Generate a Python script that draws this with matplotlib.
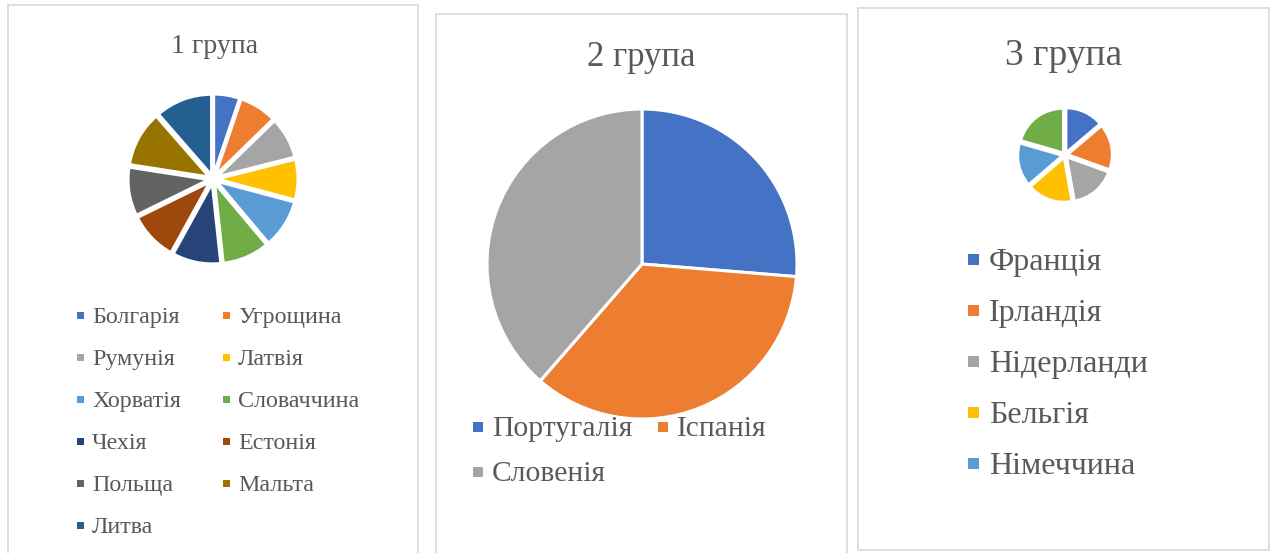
import matplotlib
matplotlib.use("Agg")
import matplotlib.pyplot as plt
from matplotlib.patches import Rectangle

W, H = 1272, 553
DPI = 100

# ---------------- data ----------------
labels1 = ["Болгарія", "Угрощина", "Румунія", "Латвія", "Хорватія", "Словаччина",
           "Чехія", "Естонія", "Польща", "Мальта", "Литва"]
values1 = [5.2, 7.5, 8.3, 8.1, 9.7, 9.4, 9.7, 9.7, 9.7, 11.1, 11.4]

labels2 = ["Португалія", "Іспанія", "Словенія"]
values2 = [26.3, 35.1, 38.6]

labels3 = ["Франція", "Ірландія", "Нідерланди", "Бельгія", "Німеччина"]
values3 = [13.8, 16.7, 16.7, 16.5, 15.8, 20.5]

titles = ["1 група", "2 група", "3 група"]

office = ["#4472C4", "#ED7D31", "#A5A5A5", "#FFC000", "#5B9BD5", "#70AD47",
          "#264478", "#9E480E", "#636363", "#997300", "#255E91"]

TEXT = "#595959"
FONT = "Liberation Serif"

fig = plt.figure(figsize=(W / DPI, H / DPI), dpi=DPI)
fig.patch.set_facecolor("white")


def fx(x):
    return x / W


def fy(y):
    return 1 - y / H


# panel borders
for (x0, y0, x1, y1) in [(8, 5, 418, 560), (436, 14, 847, 560), (858, 8, 1269, 550)]:
    fig.patches.append(Rectangle((fx(x0), fy(y1)), fx(x1 - x0), (y1 - y0) / H,
                                 transform=fig.transFigure, fill=False,
                                 edgecolor="#D9D9D9", linewidth=1.2))


def pie_axes(cx, cy, r, values, explode, lw):
    ax = fig.add_axes([fx(cx - r), fy(cy + r), 2 * r / W, 2 * r / H])
    e = explode / (1 + explode)
    wedges, _ = ax.pie(values, colors=office[:len(values)], startangle=90,
                       counterclock=False, radius=1 - e,
                       explode=[e] * len(values),
                       wedgeprops=dict(edgecolor="white", linewidth=lw))
    ax.set_xlim(-1, 1)
    ax.set_ylim(-1, 1)
    ax.axis("off")
    for w in wedges:
        w.set_clip_on(False)
    return wedges


w1 = pie_axes(213, 179, 85, values1, 0.05, 2.2)
w2 = pie_axes(642, 264, 155, values2, 0.0, 2.2)
w3 = pie_axes(1065, 155, 47, values3, 0.07, 1.6)

# titles (baseline placement)
fig.text(fx(214.5), fy(53), titles[0], ha="center", va="baseline", fontsize=20,
         color=TEXT, family=FONT)
fig.text(fx(641.5), fy(66), titles[1], ha="center", va="baseline", fontsize=25,
         color=TEXT, family=FONT)
fig.text(fx(1063.5), fy(65), titles[2], ha="center", va="baseline", fontsize=27,
         color=TEXT, family=FONT)


def legend(labels, wedges, x0, dx, y0, dy, ncol, msize, fsize, tgap):
    half_cap = 0.33 * fsize * DPI / 72
    for i, lab in enumerate(labels):
        row, col = divmod(i, ncol)
        x = x0 + col * dx
        y = y0 + row * dy
        fig.patches.append(Rectangle((fx(x), fy(y + msize / 2)), msize / W, msize / H,
                                     transform=fig.transFigure,
                                     facecolor=wedges[i].get_facecolor(),
                                     edgecolor="none"))
        fig.text(fx(x + msize + tgap), fy(y + half_cap), lab, ha="left", va="baseline",
                 fontsize=fsize, color=TEXT, family=FONT)


legend(labels1, w1, 77, 146, 315, 42, 2, 7, 17.3, 8)
legend(labels2, w2, 473, 185, 426.5, 45, 2, 10, 21.3, 9)
legend(labels3, w3, 968, 0, 259.5, 51, 1, 11, 23, 10)

fig.savefig("out.png", dpi=DPI, facecolor="white")
